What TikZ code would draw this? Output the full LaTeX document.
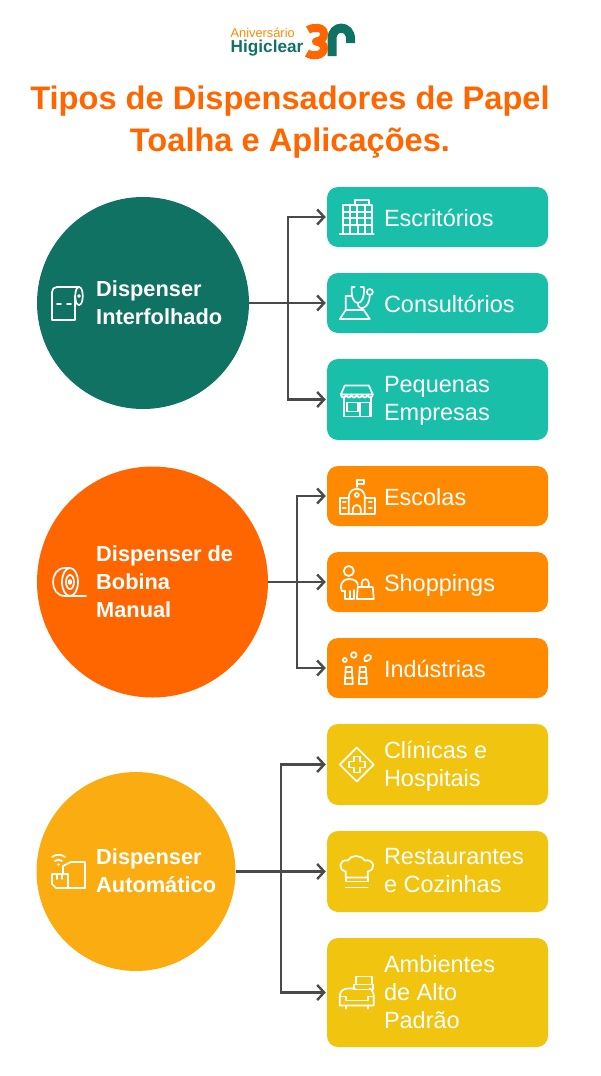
\documentclass[tikz,border=0pt]{standalone}
\usepackage{fontspec}
\setmainfont{Liberation Sans}
\usetikzlibrary{arrows.meta, positioning}

\definecolor{tealdark}{HTML}{0F7263}
\definecolor{tealbox}{HTML}{1ABFA9}
\definecolor{orangedark}{HTML}{FF6600}
\definecolor{orangebox}{HTML}{FF8A00}
\definecolor{amberdark}{HTML}{FBAC11}
\definecolor{yellowbox}{HTML}{F1C40F}
\definecolor{wire}{HTML}{4A4A4A}

\tikzset{
	bigdot/.style={circle, inner sep=0pt},
	itembox/.style={rounded corners=11pt, minimum width=221pt, inner sep=0pt},
	itemtext/.style={anchor=west, align=left, text=white, inner sep=0pt, yshift=-3.5pt, font=\fontsize{23.5}{28}\selectfont, execute at begin node=\strut, execute at end node=\strut},
	headtext/.style={anchor=west, align=left, text=white, inner sep=0pt, yshift=-3.5pt, font=\fontsize{21.8}{28}\selectfont\bfseries, execute at begin node=\strut, execute at end node=\strut},
	wireline/.style={draw=wire, line width=2.2pt},
	wirearrow/.style={wireline, -{Straight Barb[length=7pt,width=15pt,line width=2.4pt]}},
	icon/.style={draw=white, line width=1.7pt, line cap=round, line join=round},
	pics/building/.style={code={
		\draw[icon] (-17,17) -- (17,17) (-14,17) -- (-14,-12) -- (15,-12) -- (15,17) (-2,-12) -- (-2,-17) -- (12,-17) -- (12,-12);
		\draw[icon] (-14,-5) -- (15,-5) (-14,1) -- (15,1) (-14,8) -- (15,8) (-7,-12) -- (-7,17) (0,-12) -- (0,8) (8,-12) -- (8,17) (1,8) -- (1,17);
	}},
	pics/stetho/.style={code={
		\draw[icon] (-17,16) -- (13,16) -- (7,7) -- (-11,7) -- cycle (-11,7) -- (-11,-7) -- (-5,-7);
		\draw[icon] (-2,-16) -- (-5,-16) .. controls (-6,-6) and (-3,0) .. (1,0) .. controls (5,0) and (8,-6) .. (7,-16) -- (4,-16);
		\draw[icon] (1,0) .. controls (1,9) and (13,6) .. (13,-8);
		\draw[icon] (13,-11) circle (3);
	}},
	pics/store/.style={code={
		\draw[icon] (-12,-14) -- (12,-14) -- (16,-5) -- (-16,-5) -- cycle;
		\draw[icon] (-16,-5) arc (180:0:2.67 and 3) arc (180:0:2.67 and 3) arc (180:0:2.67 and 3) arc (180:0:2.67 and 3) arc (180:0:2.67 and 3) arc (180:0:2.67 and 3);
		\draw[icon] (-13,-2) -- (-13,17) -- (14,17) -- (14,-2);
		\draw[icon] (-10,3) rectangle (1,12) (3,3) rectangle (13,17);
	}},
	pics/school/.style={code={
		\draw[icon] (0,-9) -- (0,-16) -- (7,-16) -- (7,-12) -- (0,-12);
		\draw[icon] (-8,18) -- (-8,2) .. controls (-8,-5) and (-4,-7) .. (0,-7) .. controls (4,-7) and (8,-5) .. (8,2) -- (8,18);
		\draw[icon] (0,-1) circle (2);
		\draw[icon] (-4,18) -- (-4,13) arc (180:360:4) -- (4,18);
		\draw[icon] (-8,2) -- (-17,2) -- (-17,18) -- (18,18) -- (18,2) -- (8,2);
		\draw[icon] (-14,6) -- (-11,6) (-14,12) -- (-11,12) (12,6) -- (15,6) (12,12) -- (15,12);
	}},
	pics/shopper/.style={code={
		\draw[icon] (-8,-11) circle (5);
		\draw[icon] (-15,9) .. controls (-17,4) and (-16,-2) .. (-8,-3) .. controls (-2,-3) and (1,0) .. (1,3);
		\draw[icon] (-12,9) -- (-12,17) -- (-3,17) -- (-3,8);
		\draw[icon] (-15,9) -- (-12,9) (-7,9) -- (-7,17);
		\draw[icon] (1,5) -- (16,5) -- (17,17) -- (0,17) -- cycle;
		\draw[icon] (5,5) -- (5,1) .. controls (5,-4) and (12,-4) .. (12,1) -- (12,5);
	}},
	pics/factory/.style={code={
		\draw[icon] (-12,16) -- (-11,-1) -- (-5,-1) -- (-4,16) -- cycle (2,16) -- (3,-1) -- (9,-1) -- (10,16) -- cycle;
		\draw[icon] (-12,10) -- (-4,10) (2,10) -- (10,10) (-11,4) -- (-5,4) (3,4) -- (9,4);
		\draw[icon] (-12,-8) circle (2) (-3,-13) circle (2.8);
		\draw[icon] (8,-7) .. controls (6,-11) and (11,-15) .. (14,-12) .. controls (15,-9) and (11,-6) .. (8,-7);
	}},
	pics/medical/.style={code={
		\draw[icon] (0,-17) -- (17,0) -- (0,17) -- (-17,0) -- cycle;
		\draw[icon] (-3,-8) -- (3,-8) -- (3,-3) -- (8,-3) -- (8,3) -- (3,3) -- (3,8) -- (-3,8) -- (-3,3) -- (-8,3) -- (-8,-3) -- (-3,-3) -- cycle;
	}},
	pics/chefhat/.style={code={
		\draw[icon] (-11,6) -- (-11,0) .. controls (-20,-2) and (-17,-13) .. (-9,-11) .. controls (-6,-17) and (4,-17) .. (8,-11) .. controls (17,-13) and (20,-2) .. (11,0) -- (11,6) -- cycle;
		\draw[icon] (-11,6) -- (-11,10) -- (11,10) -- (11,6) (-11,16) -- (11,16);
	}},
	pics/sofa/.style={code={
		\draw[icon] (-2,-4) -- (-9,-4) .. controls (-14,-4) and (-17,-1) .. (-17,4) -- (-17,13) -- (17,13) -- (17,4) .. controls (17,0) and (15,-3) .. (13,-4);
		\draw[icon] (-17,4) -- (-11,4) -- (-11,8) -- (11,8) -- (11,4) -- (17,4) (-11,13) -- (-11,16) (11,13) -- (11,16);
		\draw[icon] (-1,-16) rectangle (15,-8) (-3,-8) -- (16,-8) -- (16,-3) -- (-3,-3) -- cycle;
	}},
	pics/sheetroll/.style={code={
		\draw[icon] (11,-16) -- (-11,-16) .. controls (-14,-16) and (-16,-14) .. (-16,-11) -- (-16,17) -- (7,17) -- (7,-7);
		\draw[icon] (11,-16) .. controls (6,-16) and (6,2) .. (11,2) .. controls (16,2) and (16,-16) .. (11,-16);
		\draw[icon] (11,-7) circle (1);
		\draw[icon] (-11,1) -- (-7,1) (-1,1) -- (3,1);
	}},
	pics/bobbin/.style={code={
		\draw[icon] (18,14) -- (-3,14) .. controls (-19,14) and (-19,-14) .. (-3,-14) -- (2,-14);
		\draw[icon] (2,0) circle (8 and 14);
		\draw[icon] (2,0) circle (4 and 7);
		\draw[icon] (2,0) circle (1.2 and 2);
	}},
	pics/autobox/.style={code={
		\draw[icon] (-5,3) -- (-5,-5) -- (3,-9) -- (17,-9) -- (17,17) -- (0,17);
		\draw[icon] (-16,3) -- (0,3) -- (0,17) -- (-12,17) -- (-16,13) -- cycle (-11,3) -- (-11,8) (-6,3) -- (-6,8);
		\draw[icon] (-16,-14) .. controls (-12,-17) and (-7,-17) .. (-3,-14) (-13,-10) .. controls (-11,-12) and (-8,-12) .. (-6,-10);
		\fill[white] (-9.5,-6.5) circle (1.3);
	}},
}

% one box on the right, with its icon and its text
\newcommand{\itemrow}[7]{
	\node (#1) [itembox, fill=#4, minimum height=#3pt] at (437.5,#2) {};
	\pic at ([xshift=#5pt]#1.west) {#6};
	\node (#1txt) [itemtext] at ([xshift=57pt]#1.west) {#7};
}

\begin{document}
\begin{tikzpicture}[x=1pt,y=-1pt]
	\useasboundingbox (0,0) rectangle (600,1076);

	% logo
	\node (anniv) [anchor=base west, inner sep=0pt, text=orangebox, font=\fontsize{12.8}{14}\selectfont] at (230.5,37) {Aniversário};
	\node (brand) [anchor=base west, inner sep=0pt, text=tealdark, font=\fontsize{17.2}{18}\selectfont\bfseries] at (230.5,52.5) {Higiclear};
	\draw[tealdark, line width=9pt] (332,56) -- (332,39) .. controls (332,24.5) and (350.5,24.5) .. (350.5,39) -- (350.5,43);
	\draw[orangedark, line width=8pt, line join=round] (308,30) .. controls (312,27) and (324,26) .. (324,34) .. controls (324,39) and (320,41) .. (316,41.5) .. controls (321,42) and (324,45) .. (324,48) .. controls (324,56) and (312,57) .. (307,53);

	% title
	\node (title) [align=center, inner sep=0pt, text=orangedark, font=\fontsize{32.6}{42}\selectfont\bfseries] at (290,122) {Tipos de Dispensadores de Papel\\Toalha e Aplicações.};

	% left circles
	\node (interf) [bigdot, fill=tealdark, minimum size=212pt] at (143,303) {};
	\node (bobina) [bigdot, fill=orangedark, minimum size=231pt] at (152.5,582) {};
	\node (autom) [bigdot, fill=amberdark, minimum size=199pt] at (136,871.5) {};

	\pic at (68,303) {sheetroll};
	\pic at (68,582) {bobbin};
	\pic at (68,871) {autobox};
	\node (interftxt) [headtext] at (96,303) {Dispenser\\Interfolhado};
	\node (bobinatxt) [headtext] at (96,582) {Dispenser de\\Bobina\\Manual};
	\node (automtxt) [headtext] at (96,871.5) {Dispenser\\Automático};

	% right boxes
	\itemrow{escrit}{217}{60}{tealbox}{30}{building}{Escritórios}
	\itemrow{consult}{303}{60}{tealbox}{30}{stetho}{Consultórios}
	\itemrow{pequen}{399.5}{81}{tealbox}{30}{store}{Pequenas\\Empresas}
	\itemrow{escolas}{496}{60}{orangebox}{30}{school}{Escolas}
	\itemrow{shopp}{582}{60}{orangebox}{30}{shopper}{Shoppings}
	\itemrow{indust}{668}{60}{orangebox}{30}{factory}{Indústrias}
	\itemrow{clinic}{764.5}{81}{yellowbox}{30}{medical}{Clínicas e\\Hospitais}
	\itemrow{restaur}{871.5}{81}{yellowbox}{30}{chefhat}{Restaurantes\\e Cozinhas}
	\itemrow{ambient}{992.5}{109}{yellowbox}{30}{sofa}{Ambientes\\de Alto\\Padrão}

	% connectors
	\coordinate (fork1) at (288,303);
	\coordinate (fork2) at (297,582);
	\coordinate (fork3) at (281,871.5);

	\draw[wireline] (interf.east) -- (fork1);
	\draw[wirearrow] (fork1) |- ([xshift=-1pt]escrit.west);
	\draw[wirearrow] (fork1) -- ([xshift=-1pt]consult.west);
	\draw[wirearrow] (fork1) |- ([xshift=-1pt]pequen.west);

	\draw[wireline] (bobina.east) -- (fork2);
	\draw[wirearrow] (fork2) |- ([xshift=-1pt]escolas.west);
	\draw[wirearrow] (fork2) -- ([xshift=-1pt]shopp.west);
	\draw[wirearrow] (fork2) |- ([xshift=-1pt]indust.west);

	\draw[wireline] (autom.east) -- (fork3);
	\draw[wirearrow] (fork3) |- ([xshift=-1pt]clinic.west);
	\draw[wirearrow] (fork3) -- ([xshift=-1pt]restaur.west);
	\draw[wirearrow] (fork3) |- ([xshift=-1pt]ambient.west);
\end{tikzpicture}
\end{document}
